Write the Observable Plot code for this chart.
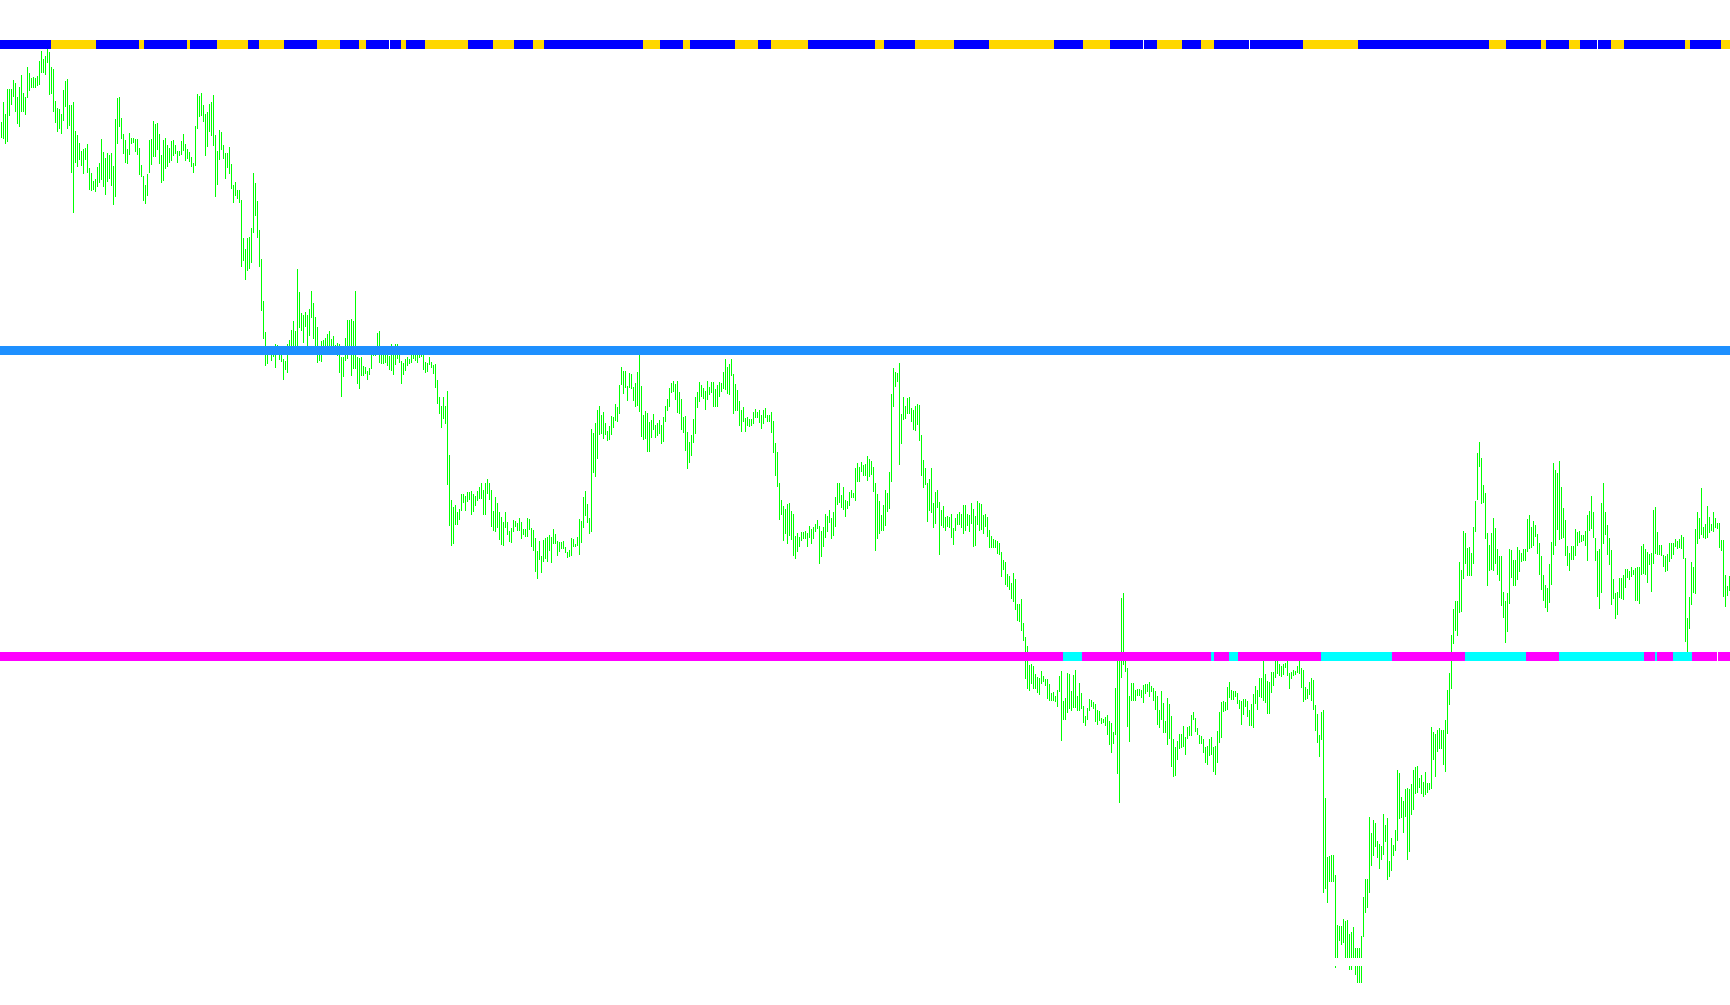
<!DOCTYPE html>
<html><head><meta charset="utf-8">
<script src="https://cdn.jsdelivr.net/npm/d3@7"></script>
<script src="https://cdn.jsdelivr.net/npm/@observablehq/plot@0.6"></script>
<style>html,body{margin:0;padding:0;background:#fff;overflow:hidden}</style>
</head><body><div id="chart"></div>
<script>
// Bar highs / lows (price points), one per bar, left to right
const barHigh = [
883,903,891,916,916,916,925,922,908,918, 930,912,908,938,932,927,928,927,929,944,
954,946,949,958,953,938,936,904,897,896, 891,915,924,926,900,900,903,874,870,862,
854,856,857,861,837,832,824,826,838,842, 866,853,847,852,850,852,839,886,907,908,
887,871,865,856,872,867,867,866,866,857, 840,829,820,831,865,866,884,881,882,871,
850,865,867,860,857,864,865,860,854,854, 864,871,861,856,853,848,842,879,911,909,
912,900,891,893,901,903,910,870,854,875, 873,860,852,852,858,841,820,823,815,815,
805,767,756,767,768,777,832,822,804,775,
746,704,673,655,657,652,655,661,660,652, 652,646,644,661,665,675,684,674,736,713,
692,690,693,690,696,714,702,688,678,657, 664,665,667,671,674,666,669,660,662,661,
648,648,667,685,685,686,684,714,648,647, 648,639,638,634,637,655,655,654,672,674,
655,655,656,654,649,661,656,661,661,655, 644,642,646,648,646,652,655,655,654,655,
654,654,643,642,648,643,640,641,625,608, 599,608,599,614,550,505,498,500,493,496,
511,511,509,513,513,514,511,509,514,518, 522,515,522,526,522,515,494,508,502,493,
488,483,493,483,474,477,485,484,482,487,
483,476,476,487,486,477,475,467,454,464, 449,465,467,468,470,468,476,471,464,463,
463,464,458,453,455,467,466,461,468,486, 484,508,514,501,487,576,572,582,595,599,
590,593,582,574,579,589,588,601,598,620, 638,634,634,619,632,631,618,622,633,650,
619,590,594,592,583,585,591,580,582,585, 580,588,599,606,617,622,624,621,624,613,
606,588,589,573,563,570,586,608,613,623, 620,617,614,624,618,623,623,616,620,623,
622,633,646,638,641,646,631,621,615,604, 595,598,587,588,586,586,593,596,593,595,
590,595,597,590,590,593,584,562,553,522,
505,499,496,501,502,494,491,469,472,468, 473,473,474,472,479,476,478,481,485,479,
474,478,491,489,495,487,493,508,522,522, 510,518,505,504,513,515,512,537,542,538,
543,540,541,549,546,544,538,522,511,504, 490,500,515,512,533,611,637,633,632,642,
591,608,599,607,608,597,595,599,601,600, 570,545,537,522,526,537,502,513,515,503,
495,499,488,489,488,491,477,487,491,493, 491,500,500,491,490,502,496,489,504,502,
501,490,491,488,475,469,466,465,464,462, 453,445,443,431,429,422,432,426,401,401,
406,382,368,359,340,341,339,331,328,327,
334,329,326,326,321,312,313,309,315,329, 334,304,307,332,331,314,330,335,309,322,
312,299,289,297,306,305,303,301,295,294, 287,286,288,290,284,282,273,317,345,350,
407,412,350,337,309,322,322,315,316,316, 315,320,321,321,323,319,317,314,309,295,
314,302,284,307,301,289,266,258,264,271, 271,279,268,278,279,290,293,287,277,270,
269,266,258,259,266,268,258,259,274,293, 303,304,303,318,323,315,314,314,312,305,
304,306,306,304,295,301,311,319,315,327, 327,346,331,324,323,333,333,346,345,341,
339,341,342,345,332,333,335,334,339,346,
337,335,318,316,323,327,325,300,291,270, 293,295,207,148,149,150,150,130,80,79,
79,86,84,85,71,73,78,57,57,57, 69,108,126,126,188,172,185,182,164,161,
159,191,180,187,144,167,160,175,235,232, 208,204,216,217,216,221,235,238,239,227,
230,223,233,222,222,278,273,271,275,277, 275,275,285,315,332,370,396,404,404,443,
435,474,472,457,458,452,478,504,552,563, 547,520,512,472,460,472,487,477,456,449,
449,413,404,412,456,455,445,445,458,455, 452,456,456,486,490,478,484,480,471,462,
449,430,420,417,441,463,542,535,532,544, 518,497,485,459,452,459,459,476,473,474,
470,470,474,490,494,509,493,467,454,456, 502,522,493,480,467,455,426,412,413,427,
427,430,436,436,434,438,435,437,438,438, 459,461,456,453,451,452,495,498,473,460,
460,450,449,451,462,462,462,466,464,466, 470,468,447,387,408,443,438,476,493,487,
517,478,481,499,488,481,493,487,482,482, 465,465,430,419,429
];
const barLow = [
867,866,861,863,889,900,908,893,881,878, 893,893,890,907,914,917,917,917,919,920,
932,932,930,942,910,911,893,882,873,876, 871,884,898,876,879,832,792,842,838,845,
839,831,845,832,815,814,815,813,818,822, 825,818,810,823,826,819,800,808,861,878,
866,851,842,841,850,861,862,853,850,830, 828,804,801,809,832,840,848,848,855,841,
822,824,836,838,842,844,849,851,842,849, 850,854,844,846,843,838,832,839,876,888,
889,883,849,858,873,869,859,808,820,845, 855,846,826,837,831,816,802,809,806,802,
738,744,725,734,736,742,772,789,767,738,
694,666,639,641,651,644,648,637,651,645, 643,625,635,632,652,652,652,652,653,677,
674,662,678,659,669,687,666,659,642,644, 643,652,653,651,658,652,654,653,649,632,
608,628,644,646,652,629,636,636,621,616, 629,629,631,625,630,636,649,649,652,642,
641,641,642,639,635,634,630,640,646,642, 621,630,634,639,641,642,646,644,642,647,
648,635,632,633,640,637,631,617,601,591, 577,586,581,520,479,459,461,480,480,485,
494,502,494,503,505,490,493,499,504,506, 506,490,490,511,505,478,474,473,477,465,
460,459,477,470,463,462,473,478,474,474,
466,470,468,468,475,458,454,433,426,445, 432,443,446,443,454,442,461,461,449,453,
456,456,452,447,448,449,458,458,459,450, 462,477,489,482,471,473,532,528,546,570,
571,566,570,564,565,570,577,584,583,591, 620,611,617,604,617,616,604,598,599,593,
568,565,566,553,553,567,575,567,569,571, 561,563,583,594,598,612,613,605,592,591,
575,572,554,536,542,549,562,571,597,603, 608,606,595,605,610,612,598,598,598,608,
613,616,615,611,610,629,591,594,594,579, 573,583,573,579,578,579,581,587,587,582,
576,581,587,583,583,572,552,529,518,485,
490,464,471,461,469,465,449,446,453,458, 464,466,466,458,467,461,466,473,476,441,
448,458,467,473,482,466,469,478,500,502, 497,495,488,496,499,507,507,504,523,523,
533,529,529,524,528,530,513,454,466,471, 474,474,479,493,496,523,598,618,623,540,
561,585,586,591,591,583,575,574,580,564, 529,517,520,483,494,492,477,481,497,450,
479,477,474,478,477,467,460,474,480,480, 477,471,474,479,473,481,458,459,480,474,
475,471,478,468,457,457,457,457,451,450, 428,435,420,418,415,406,403,395,384,383,
374,364,326,316,314,321,316,316,312,310,
321,323,319,306,304,304,304,303,298,313, 264,285,285,292,296,294,297,297,294,294,
296,282,279,285,294,298,296,283,280,284, 281,282,279,270,260,252,261,270,231,202,
327,340,333,278,263,304,304,304,309,309, 307,302,311,313,308,313,304,295,280,277,
285,272,272,260,266,238,228,229,245,256, 257,258,250,266,269,269,285,273,270,261,
261,252,242,240,249,250,233,230,242,262, 267,293,294,295,307,305,305,308,301,296,
280,290,298,288,279,279,277,301,295,308, 307,304,302,291,291,312,319,327,331,329,
328,330,337,329,316,326,329,330,332,331,
317,303,305,306,310,304,295,274,262,248, 265,112,116,102,123,123,123,37,47,64,
60,62,47,47,35,35,47,30,22,22, 22,68,92,97,112,139,149,158,147,136,
145,150,163,125,128,134,149,154,164,186, 187,172,188,145,153,190,195,211,212,217,
211,208,210,212,215,216,245,228,253,256, 256,240,233,271,300,316,361,374,369,392,
393,426,441,429,429,429,441,473,505,538, 501,502,466,419,434,435,434,441,430,424,
399,387,362,373,401,427,419,419,425,433, 443,444,444,453,456,457,459,468,451,430,
415,404,397,393,402,420,450,459,475,465, 466,467,449,439,434,445,445,449,459,462,
463,464,459,444,474,476,467,444,408,396, 412,461,470,450,440,400,406,386,390,407,
406,405,417,427,425,428,430,404,404,401, 430,431,430,422,440,413,441,451,450,450,
449,438,433,434,443,446,450,458,456,457, 456,446,363,348,376,400,412,411,461,466,
470,467,466,467,472,474,473,477,476,457, 454,408,398,409,414
];

// Upper trend strip (bar-index spans)
const topBandStart = [-0.5,25,47.5,69,71.5,93,94.5,108,123.5,129,141.5,158,169.5,179,182.5,194.5,200,202.5,212,233.5,246,256.5,266,271.5,321,329.5,341,344.5,367,378.5,385,403.5,437,441.5,457,476.5,494,526.5,541,554.5,571.5,578,590.5,600,606.5,624.5,651,678.5,744,752.5,770,772.5,784,789.5,798.5,805,811.5,842,844.5,860];
const topBandEnd = [25,47.5,69,71.5,93,94.5,108,123.5,129,141.5,158,169.5,179,182.5,194,200,202.5,212,233.5,246,256.5,266,271.5,321,329.5,341,344.5,367,378.5,385,403.5,437,441.5,457,476.5,494,526.5,541,554.5,571,578,590.5,600,606.5,624,651,678.5,744,752.5,770,772.5,784,789.5,798,805,811.5,842,844.5,860,864.5];
const topBandTrend = ["up","down","up","down","up","down","up","down","up","down","up","down","up","down","up","up","down","up","down","up","down","up","down","up","down","up","down","up","down","up","down","up","down","up","down","up","down","up","down","up","up","down","up","down","up","up","down","up","down","up","down","up","down","up","up","down","up","down","up","down"];

// Lower trend strip
const lowBandStart = [-0.5,531,540.5,605,606.5,614,618.5,660,695.5,732,762.5,779,821.5,827,828,836,845.5,858.5];
const lowBandEnd = [531,540.5,605,606.5,614,618.5,660,695.5,732,762.5,779,821.5,827,828,836,845.5,858,864.5];
const lowBandTrend = ["bear","bull","bear","bull","bear","bull","bear","bull","bear","bull","bear","bull","bear","bull","bear","bull","bear","bear"];

// Price levels
const topBandLevel = 961;
const resistanceLevel = 655;
const lowBandLevel = 349;
const hiddenLevel = 43.5;

const bars = barHigh.map((h, i) => ({i, high: h, low: barLow[i]}));
const topBand = topBandStart.map((s, k) => ({start: s, end: topBandEnd[k], trend: topBandTrend[k], level: topBandLevel}));
const lowBand = lowBandStart.map((s, k) => ({start: s, end: lowBandEnd[k], trend: lowBandTrend[k], level: lowBandLevel}));

const chart = Plot.plot({
  width: 1730,
  height: 1005,
  margin: 0,
  x: {domain: [-0.5, 864.5], axis: null},
  y: {domain: [0, 1005], axis: null},
  color: {domain: ["up", "down", "bull", "bear"], range: ["#0000ff", "#ffd700", "#00ffff", "#ff00ff"]},
  style: {background: "#ffffff"},
  marks: [
    Plot.ruleX(bars, {x: "i", y1: "low", y2: "high", stroke: "#00ff00", strokeWidth: 1, shapeRendering: "crispEdges"}),
    Plot.ruleY([hiddenLevel], {stroke: "#ffffff", strokeWidth: 8, shapeRendering: "crispEdges"}),
    Plot.ruleY([resistanceLevel], {stroke: "#1e90ff", strokeWidth: 9, shapeRendering: "crispEdges"}),
    Plot.ruleY(lowBand, {y: "level", x1: "start", x2: "end", stroke: "trend", strokeWidth: 9, shapeRendering: "crispEdges"}),
    Plot.ruleY(topBand, {y: "level", x1: "start", x2: "end", stroke: "trend", strokeWidth: 9, shapeRendering: "crispEdges"})
  ]
});
document.getElementById("chart").appendChild(chart);
</script>
</body></html>
